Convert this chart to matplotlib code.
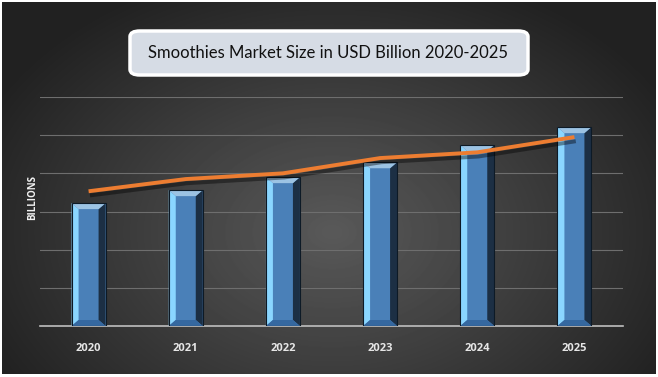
import numpy as np
import matplotlib
matplotlib.use("Agg")
import matplotlib.pyplot as plt
from matplotlib.patches import Polygon, FancyBboxPatch, Rectangle
import matplotlib.patheffects as pe

# chart data
years = ["2020", "2021", "2022", "2023", "2024", "2025"]
bar_values = [3.22, 3.56, 3.90, 4.29, 4.74, 5.21]
line_values = [3.53, 3.85, 4.00, 4.40, 4.55, 4.95]
title = "Smoothies Market Size in USD Billion 2020-2025"
y_label = "BILLIONS"

W, H, DPI = 658, 377, 100
fig = plt.figure(figsize=(W / DPI, H / DPI), dpi=DPI)
fig.patch.set_facecolor("white")

# radial gradient background inside a thin white frame
bg = fig.add_axes([2 / W, 3 / H, 654 / W, 372 / H])
bg.set_axis_off()
yy, xx = np.mgrid[0:372, 0:654]
r = np.sqrt(((xx - 330) / 420.0) ** 2 + ((yy - 230) / 300.0) ** 2)
shade = np.clip(0.35 - 0.24 * r, 0.13, 0.35)
bg.imshow(shade, cmap="gray", vmin=0, vmax=1, aspect="auto", interpolation="bilinear")

ax = fig.add_axes([40 / W, (H - 326) / H, 583 / W, 229 / H])
ax.set_facecolor("none")
ax.set_xlim(-0.5, len(years) - 0.5)
ax.set_ylim(0, 6)
for s in ["top", "right", "left"]:
    ax.spines[s].set_visible(False)
ax.spines["bottom"].set_color("#bfbfbf")
ax.spines["bottom"].set_linewidth(1.2)
ax.set_yticks(np.arange(1, 7))
ax.yaxis.grid(True, color="#6e6e6e", linewidth=0.8)
ax.set_axisbelow(True)
ax.tick_params(axis="y", left=False, labelleft=False)
ax.tick_params(axis="x", bottom=False, colors="#e6e6e6", labelsize=8, pad=9)
x = np.arange(len(years))
ax.set_xticks(x)
ax.set_xticklabels(years, fontweight="bold", family="Open Sans")

# beveled bars
bw = 0.35
px_x = 7.0 / 583 * 6    # bevel width in data units
px_y = 6.0 / 229 * 6
for xi, v in zip(x, bar_values):
    l, rgt = xi - bw / 2, xi + bw / 2
    ax.add_patch(Rectangle((l, 0), bw, v, facecolor="#4a80b8", edgecolor="none", zorder=3))
    il, ir, it, ib = l + px_x, rgt - px_x, v - px_y, px_y
    ax.add_patch(Polygon([(l, 0), (l, v), (il, it), (il, ib)], closed=True,
                         facecolor="#8ad6ff", edgecolor="none", zorder=4))
    ax.add_patch(Polygon([(rgt, 0), (rgt, v), (ir, it), (ir, ib)], closed=True,
                         facecolor="#1c2f44", edgecolor="none", zorder=4))
    ax.add_patch(Polygon([(l, v), (rgt, v), (ir, it), (il, it)], closed=True,
                         facecolor="#9cc3e3", edgecolor="none", zorder=4))
    ax.add_patch(Polygon([(l, 0), (rgt, 0), (ir, ib), (il, ib)], closed=True,
                         facecolor="#3568a0", edgecolor="none", zorder=4))
    ax.add_patch(Rectangle((l, 0), bw, v, facecolor="none", edgecolor="#0d1a26", lw=0.8, zorder=5))

ax.plot(x, line_values, color="#ed7d31", lw=2.8, zorder=6, solid_capstyle="butt",
        path_effects=[pe.SimpleLineShadow(offset=(1, -3), shadow_color="black", alpha=0.4),
                      pe.Normal()])

fig.text(33 / W, 1 - 198 / H, y_label, rotation=90, ha="center", va="center",
         color="#f2f2f2", fontsize=7, fontweight="bold", family="Open Sans")

# title box
tb = FancyBboxPatch((130 / W, 1 - 75 / H), 398 / W, 44 / H,
                    boxstyle="round,pad=0,rounding_size=0.015",
                    transform=fig.transFigure, facecolor="#d6dce5",
                    edgecolor="white", lw=2.5, zorder=10)
fig.patches.append(tb)
fig.text(328 / W, 1 - 53 / H, title, ha="center", va="center", fontsize=12,
         color="#111111", family="Lato", zorder=11)

fig.savefig("out.png", dpi=DPI)
